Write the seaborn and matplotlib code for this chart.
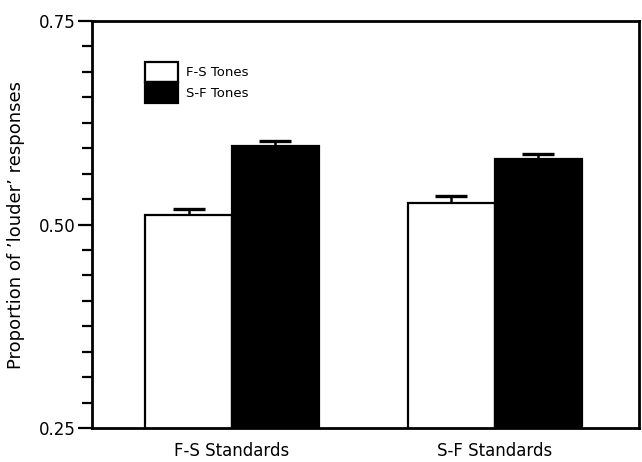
import matplotlib
matplotlib.use("Agg")
import matplotlib.pyplot as plt
import seaborn as sns
import pandas as pd
import numpy as np

# Data
standards = ["F-S Standards", "S-F Standards"]
tones = ["F-S Tones", "S-F Tones"]
fs_tones = [0.512, 0.527]
sf_tones = [0.596, 0.580]
fs_err = [0.007, 0.008]
sf_err = [0.006, 0.006]

sns.set_theme(style="ticks")
plt.rcParams['font.family'] = ['DejaVu Sans']
plt.rcParams['text.color'] = 'black'
plt.rcParams['axes.labelcolor'] = 'black'
plt.rcParams['xtick.color'] = 'black'
plt.rcParams['ytick.color'] = 'black'

df = pd.DataFrame({
    "standard": standards * 2,
    "tone": [tones[0]] * 2 + [tones[1]] * 2,
    "value": fs_tones + sf_tones,
})

fig = plt.figure(figsize=(6.42, 4.62), dpi=100)
ax = fig.add_axes([92/642, 1 - 428/462, (639-92)/642, (428-21)/462])

sns.barplot(data=df, x="standard", y="value", hue="tone", order=standards,
            hue_order=tones, palette=["white", "black"], edgecolor="black",
            linewidth=1.6, errorbar=None, width=0.66, saturation=1, ax=ax)

# upward-only error bars at bar centers
errs = {tones[0]: fs_err, tones[1]: sf_err}
vals = {tones[0]: fs_tones, tones[1]: sf_tones}
for container, tone in zip(ax.containers, tones):
    xs = [p.get_x() + p.get_width() / 2 for p in container.patches]
    eb = ax.errorbar(xs, vals[tone], yerr=[np.zeros(len(xs)), errs[tone]],
                     fmt="none", ecolor="black", elinewidth=1.8, capsize=11.5,
                     capthick=2.4, zorder=1)
    caplines = eb[1]
    if len(caplines) == 2:
        caplines[0].set_visible(False)

ax.set_ylim(0.25, 0.75)
ax.set_xlim(-0.532, 1.548)
ax.set_yticks([0.25, 0.50, 0.75])
ax.set_yticklabels(["0.25", "0.50", "0.75"])
ax.set_yticks(np.arange(0.25, 0.7501, 0.03125), minor=True)
ax.tick_params(axis="y", which="major", length=10, width=1.6, labelsize=12, pad=2, direction="out")
ax.tick_params(axis="y", which="minor", length=7, width=1.6, direction="out")
ax.tick_params(axis="x", length=0, labelsize=12, pad=10)
for s in ax.spines.values():
    s.set_linewidth(2)
    s.set_color("black")
    s.set_visible(True)

ax.set_xlabel("")
ax.set_ylabel("Proportion of \u2019louder\u2019 responses", fontsize=13, labelpad=10)

handles, labels = ax.get_legend_handles_labels()
ax.legend(handles, labels, loc="upper left", bbox_to_anchor=((145-92)/547, (428-62)/407),
          frameon=False, fontsize=9.5, labelspacing=0, handlelength=2.5,
          handleheight=2.0, handletextpad=0.6, borderpad=0, borderaxespad=0)

fig.savefig("out.png", dpi=100)
